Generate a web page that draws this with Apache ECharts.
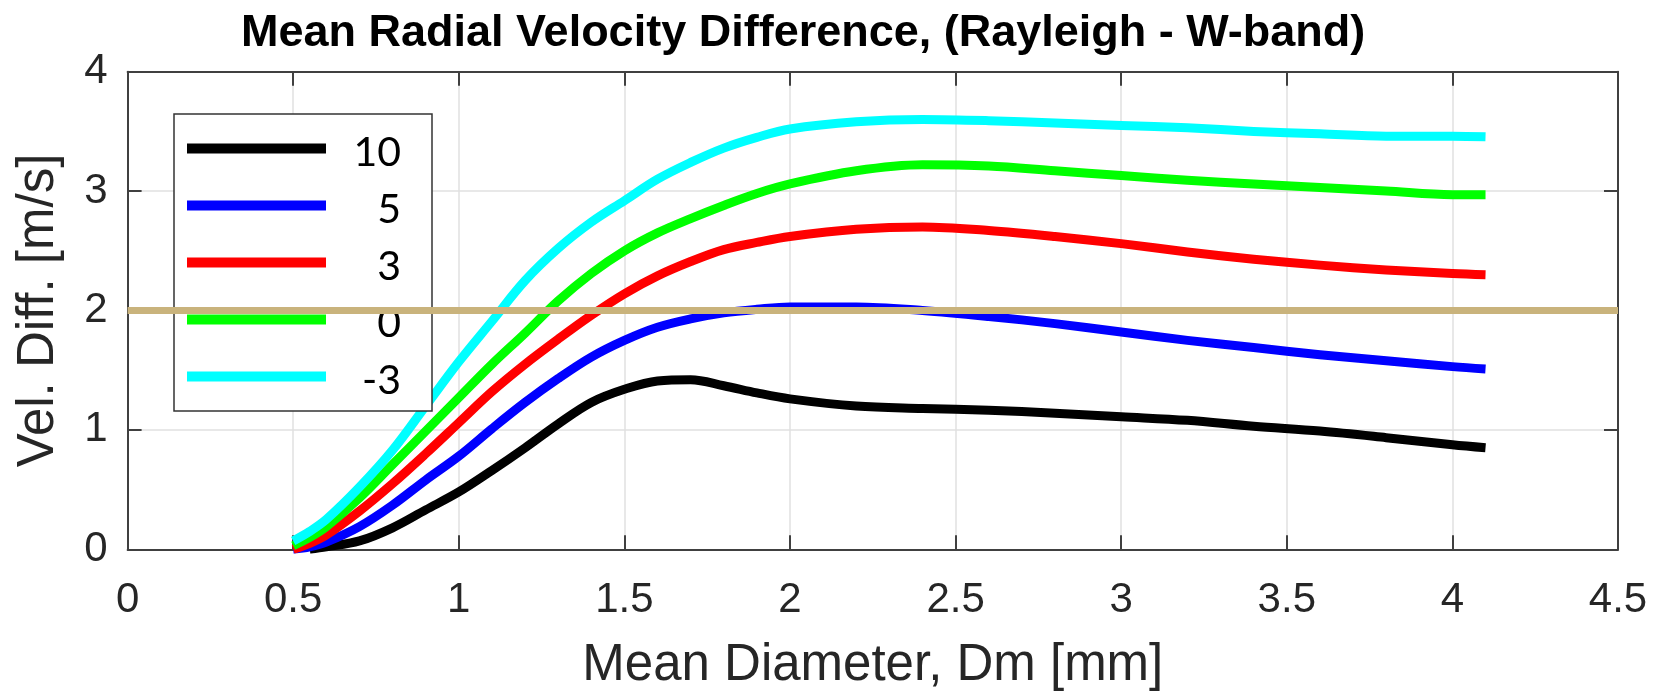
<!DOCTYPE html>
<html>
<head>
<meta charset="utf-8">
<script src="https://cdn.jsdelivr.net/npm/echarts@6/dist/echarts.min.js"></script>
<style>
html,body{margin:0;padding:0;background:#fff;}
#chart{width:1653px;height:691px;}
</style>
</head>
<body>
<div id="chart"></div>
<script>
// ---- data ----
const titleText = 'Mean Radial Velocity Difference, (Rayleigh - W-band)';
const xAxisName = 'Mean Diameter, Dm [mm]';
const yAxisName = 'Vel. Diff. [m/s]';
const seriesNames = ['10', '5', '3', '0', '-3'];
const seriesColors = ['#000000', '#0000ff', '#ff0000', '#00ff00', '#00ffff'];
const xValues = [0.5, 0.55, 0.6, 0.7, 0.8, 0.9, 1.0, 1.1, 1.2, 1.3, 1.4, 1.5, 1.6, 1.7, 1.8, 1.9, 2.0,
                 2.2, 2.4, 2.6, 2.8, 3.0, 3.2, 3.4, 3.6, 3.8, 4.0, 4.1];
const vel10  = [null, 0.00, 0.02, 0.07, 0.18, 0.33, 0.48, 0.66, 0.85, 1.05, 1.23, 1.34, 1.41, 1.42, 1.37, 1.31, 1.26,
                1.20, 1.18, 1.165, 1.14, 1.11, 1.08, 1.03, 0.99, 0.935, 0.875, 0.85];
const vel5   = [0.00, 0.02, 0.06, 0.19, 0.37, 0.58, 0.78, 1.01, 1.23, 1.43, 1.61, 1.75, 1.86, 1.93, 1.98, 2.01, 2.03,
                2.03, 2.00, 1.95, 1.89, 1.82, 1.75, 1.69, 1.63, 1.58, 1.53, 1.51];
const vel3   = [0.00, 0.05, 0.12, 0.32, 0.55, 0.80, 1.06, 1.32, 1.55, 1.76, 1.96, 2.14, 2.29, 2.41, 2.51, 2.57, 2.62,
                2.68, 2.70, 2.67, 2.62, 2.56, 2.49, 2.43, 2.38, 2.34, 2.31, 2.30];
const vel0   = [0.03, 0.10, 0.19, 0.43, 0.71, 0.99, 1.27, 1.55, 1.81, 2.08, 2.31, 2.50, 2.65, 2.77, 2.88, 2.98, 3.06,
                3.17, 3.22, 3.21, 3.17, 3.13, 3.09, 3.06, 3.03, 3.00, 2.97, 2.97];
const velM3  = [0.07, 0.15, 0.25, 0.52, 0.83, 1.20, 1.57, 1.91, 2.25, 2.52, 2.74, 2.92, 3.10, 3.24, 3.36, 3.45, 3.52,
                3.58, 3.60, 3.59, 3.57, 3.55, 3.53, 3.50, 3.48, 3.46, 3.46, 3.455];
const seriesValues = [vel10, vel5, vel3, vel0, velM3];
const thresholdX = [0, 4.5];
const thresholdY = [2, 2];
const xTickMin = 0, xTickMax = 4.5, xTickStep = 0.5;
const yTickMin = 0, yTickMax = 4, yTickStep = 1;

// ---- chart ----
const chart = echarts.init(document.getElementById('chart'), null, {renderer: 'canvas'});
const axisColor = '#404040';
const textColor = '#262626';
const font = 'Liberation Sans, Arial, sans-serif';

const lineSeries = seriesNames.map((name, i) => ({
  name: name,
  type: 'line',
  xAxisIndex: 0,
  yAxisIndex: 0,
  data: xValues.map((x, j) => [x, seriesValues[i][j]]),
  color: seriesColors[i],
  showSymbol: false,
  symbol: 'none',
  smooth: 0.35,
  lineStyle: {color: seriesColors[i], width: 9, cap: 'butt', join: 'round'},
  itemStyle: {color: seriesColors[i]},
  emphasis: {disabled: true},
  z: 2
}));

lineSeries.push({
  name: 'threshold',
  type: 'line',
  xAxisIndex: 0,
  yAxisIndex: 0,
  data: thresholdX.map((x, j) => [x, thresholdY[j]]),
  showSymbol: false,
  symbol: 'none',
  lineStyle: {color: '#c9b37c', width: 7},
  emphasis: {disabled: true},
  z: 6
});

const option = {
  backgroundColor: '#ffffff',
  animation: false,
  title: {
    text: titleText,
    left: 241,
    top: 11,
    padding: 0,
    textStyle: {fontFamily: font, fontWeight: 'bold', fontSize: 45, color: '#000000'}
  },
  grid: {
    left: 127.6, right: 35, top: 71.7, bottom: 141.7,
    containLabel: false,
    outerBoundsMode: 'none',
    show: false
  },
  legend: {
    data: seriesNames,
    orient: 'vertical',
    left: 174,
    top: 114,
    padding: [10, 31, 10, 13],
    itemGap: 8,
    itemWidth: 139,
    itemHeight: 10,
    icon: 'rect',
    backgroundColor: '#ffffff',
    borderColor: '#333333',
    borderWidth: 1.5,
    selectedMode: false,
    formatter: name => '{v|' + name + '}',
    textStyle: {
      rich: {
        v: {fontFamily: 'Lato, sans-serif', fontSize: 41, color: '#000000', width: 70, align: 'right',
            lineHeight: 39, padding: [8, 0, 0, 0]}
      }
    },
    z: 4
  },
  xAxis: [{
    type: 'value', position: 'bottom', min: xTickMin, max: xTickMax, interval: xTickStep,
    name: xAxisName, nameLocation: 'middle', nameGap: 91,
    nameTextStyle: {fontFamily: font, fontSize: 51, color: textColor},
    axisLine: {show: true, onZero: false, lineStyle: {color: axisColor, width: 2}},
    axisTick: {show: true, inside: true, length: 14, lineStyle: {color: axisColor, width: 2}},
    axisLabel: {show: true, margin: 30, fontFamily: font, fontSize: 42, color: textColor,
                showMinLabel: true, showMaxLabel: true, hideOverlap: false,
                formatter: v => String(Math.round(v * 10) / 10)},
    splitLine: {show: true, lineStyle: {color: '#e0e0e0', width: 1.5}}
  }, {
    type: 'value', position: 'top', min: xTickMin, max: xTickMax, interval: xTickStep,
    axisLine: {show: true, onZero: false, lineStyle: {color: axisColor, width: 2}},
    axisTick: {show: true, inside: true, length: 14, lineStyle: {color: axisColor, width: 2}},
    axisLabel: {show: false},
    splitLine: {show: false}
  }],
  yAxis: [{
    type: 'value', position: 'left', min: yTickMin, max: yTickMax, interval: yTickStep,
    name: yAxisName, nameLocation: 'middle', nameGap: 63, nameRotate: 90,
    nameTextStyle: {fontFamily: font, fontSize: 51, color: textColor},
    axisLine: {show: true, onZero: false, lineStyle: {color: axisColor, width: 2}},
    axisTick: {show: true, inside: true, length: 14, lineStyle: {color: axisColor, width: 2}},
    axisLabel: {show: true, margin: 20, fontFamily: font, fontSize: 42, color: textColor,
                showMinLabel: true, showMaxLabel: true, hideOverlap: false},
    splitLine: {show: true, lineStyle: {color: '#e0e0e0', width: 1.5}}
  }, {
    type: 'value', position: 'right', min: yTickMin, max: yTickMax, interval: yTickStep,
    axisLine: {show: true, onZero: false, lineStyle: {color: axisColor, width: 2}},
    axisTick: {show: true, inside: true, length: 14, lineStyle: {color: axisColor, width: 2}},
    axisLabel: {show: false},
    splitLine: {show: false}
  }],
  series: lineSeries
};
chart.setOption(option);
</script>
</body>
</html>
